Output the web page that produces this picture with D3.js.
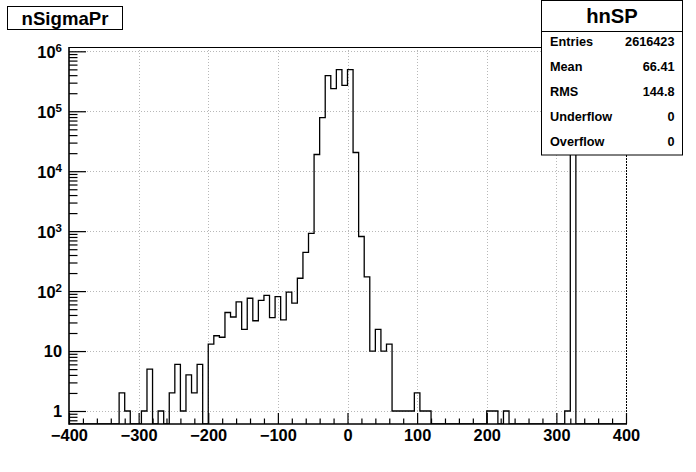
<!DOCTYPE html>
<html>
<head>
<meta charset="utf-8">
<script src="https://cdn.jsdelivr.net/npm/d3@7"></script>
<style>
  body { margin: 0; background: #fff; }
  svg { display: block; font-family: "Liberation Sans", Arial, Helvetica, sans-serif; font-weight: bold; }
</style>
</head>
<body>
<div id="chart"></div>
<script>
// histogram hnSP : 100 bins from -400 to 400
var xLow = -400,
    xHigh = 400,
    nBins = 100;

var counts = [
    0, 0, 0, 0, 0, 0, 0, 0, 0, 2,
    1, 0, 0, 1, 5, 0, 1, 0, 2, 6,
    1, 4, 2, 6, 0, 13, 18, 17, 44, 37,
    66, 23, 76, 32, 70, 85, 36, 81, 33, 96,
    63, 164, 442, 920, 19000, 78500, 394000, 239000, 495000, 271000,
    495000, 20500, 815, 173, 10, 23, 10, 13, 1, 1,
    1, 1, 2, 1, 1, 0, 0, 0, 0, 0,
    0, 0, 0, 0, 0, 1, 1, 0, 1, 0,
    0, 0, 0, 0, 0, 0, 0, 0, 0, 1,
    600000, 0, 0, 0, 0, 0, 0, 0, 0, 0
];

var xMajorTicks = [-400, -300, -200, -100, 0, 100, 200, 300, 400];
var yMajorTicks = [1, 10, 100, 1000, 10000, 100000, 1000000];

var histTitle = "nSigmaPr",
    statTitle = "hnSP";
var statNames = ["Entries", "Mean", "RMS", "Underflow", "Overflow"];
var statValues = ["2616423", "66.41", "144.8", "0", "0"];

var width = 696,
    height = 472,
    frame = {left: 69, right: 626, top: 47, bottom: 424};

var svg = d3.select("#chart").append("svg")
    .attr("width", width)
    .attr("height", height);

var x = d3.scaleLinear().domain([xLow, xHigh]).range([frame.left, frame.right]);
var y = d3.scaleLog().domain([0.607, 1.18e6]).range([frame.bottom, frame.top]);
var yFloor = y.domain()[0];

svg.append("defs").append("clipPath")
    .attr("id", "frameClip")
    .append("rect")
    .attr("x", frame.left).attr("y", frame.top)
    .attr("width", frame.right - frame.left)
    .attr("height", frame.bottom - frame.top);

// grid
var grid = svg.append("g").attr("class", "grid")
    .attr("stroke", "#b8b8b8")
    .attr("stroke-width", 1)
    .attr("stroke-dasharray", "1,2");

grid.selectAll(".gx")
    .data(xMajorTicks.filter(function(d) { return d > xLow && d < xHigh; }))
    .enter().append("line")
    .attr("x1", function(d) { return Math.round(x(d)) + 0.5; })
    .attr("x2", function(d) { return Math.round(x(d)) + 0.5; })
    .attr("y1", frame.top)
    .attr("y2", frame.bottom);

grid.selectAll(".gy")
    .data(yMajorTicks)
    .enter().append("line")
    .attr("y1", function(d) { return Math.round(y(d)) + 0.5; })
    .attr("y2", function(d) { return Math.round(y(d)) + 0.5; })
    .attr("x1", frame.left)
    .attr("x2", frame.right);

// histogram outline
var binWidth = (xHigh - xLow) / nBins;
var pts = [[xLow, yFloor]];
counts.forEach(function(c, i) {
    var v = c > 0 ? c : yFloor;
    pts.push([xLow + i * binWidth, v]);
    pts.push([xLow + (i + 1) * binWidth, v]);
});
pts.push([xHigh, yFloor]);

svg.append("path")
    .datum(pts)
    .attr("clip-path", "url(#frameClip)")
    .attr("fill", "none")
    .attr("stroke", "#000")
    .attr("stroke-width", 1.3)
    .attr("d", d3.line()
        .x(function(d) { return x(d[0]); })
        .y(function(d) { return y(d[1]); }));

// x axis
var xMinor = d3.range(xLow, xHigh + 1, 20).filter(function(d) { return xMajorTicks.indexOf(d) < 0; });

var xAxisMinor = svg.append("g")
    .attr("transform", "translate(0," + frame.bottom + ")")
    .call(d3.axisBottom(x).tickValues(xMinor).tickSize(-5.5).tickFormat(""));

var xAxis = svg.append("g")
    .attr("transform", "translate(0," + frame.bottom + ")")
    .call(d3.axisBottom(x).tickValues(xMajorTicks).tickSize(-11).tickPadding(5.6)
        .tickFormat(function(d) { return d < 0 ? "\u2212" + Math.abs(d) : d; }));

// y axis
var yMinor = y.ticks().filter(function(d) { return yMajorTicks.indexOf(d) < 0; });

var yAxisMinor = svg.append("g")
    .attr("transform", "translate(" + frame.left + ",0)")
    .call(d3.axisLeft(y).tickValues(yMinor).tickSize(-8.5).tickFormat(""));

var yAxis = svg.append("g")
    .attr("transform", "translate(" + frame.left + ",0)")
    .call(d3.axisLeft(y).tickValues(yMajorTicks).tickSize(-17).tickPadding(7).tickFormat(""));

[xAxisMinor, xAxis, yAxisMinor, yAxis].forEach(function(g) {
    g.select(".domain").remove();
    g.attr("font-family", null).attr("font-size", null);
    g.selectAll(".tick line").attr("stroke", "#000").attr("stroke-width", 1.2);
});

xAxis.selectAll("text")
    .attr("fill", "#000")
    .style("font-size", "16.4px");

// y labels with superscripted exponents
yAxis.selectAll(".tick text").each(function(d) {
    var t = d3.select(this).attr("fill", "#000").attr("dy", "0.36em").style("font-size", "16.4px");
    var p = Math.round(Math.log10(d));
    if (p < 2) {
        t.text(d);
    } else {
        t.append("tspan").text("10");
        t.append("tspan").attr("dy", "-0.5em").style("font-size", "11.5px").text(p);
    }
});

// frame
svg.append("line")
    .attr("x1", frame.left).attr("x2", frame.right)
    .attr("y1", frame.top + 0.5).attr("y2", frame.top + 0.5)
    .attr("stroke", "#000").attr("stroke-width", 1.2);
svg.append("line")
    .attr("x1", frame.right + 0.5).attr("x2", frame.right + 0.5)
    .attr("y1", frame.top).attr("y2", frame.bottom)
    .attr("stroke", "#000").attr("stroke-width", 1)
    .attr("stroke-dasharray", "2,1");
svg.append("line")
    .attr("x1", frame.left).attr("x2", frame.right + 1)
    .attr("y1", frame.bottom).attr("y2", frame.bottom)
    .attr("stroke", "#000").attr("stroke-width", 1.6);
svg.append("line")
    .attr("x1", frame.left).attr("x2", frame.left)
    .attr("y1", frame.top).attr("y2", frame.bottom + 0.8)
    .attr("stroke", "#000").attr("stroke-width", 1.6);

// stats box
var stats = svg.append("g").attr("class", "stats");
stats.append("rect")
    .attr("x", 541.5).attr("y", 0.5)
    .attr("width", 141).attr("height", 154.5)
    .attr("fill", "#fff").attr("stroke", "#000");
stats.append("line")
    .attr("x1", 541.5).attr("x2", 682.5)
    .attr("y1", 31.5).attr("y2", 31.5)
    .attr("stroke", "#000");
stats.append("text")
    .attr("x", 612).attr("y", 16)
    .attr("text-anchor", "middle")
    .attr("dominant-baseline", "central")
    .style("font-size", "20.2px")
    .text(statTitle);

var rows = stats.selectAll(".statRow")
    .data(statNames)
    .enter().append("g")
    .attr("class", "statRow")
    .attr("transform", function(d, i) { return "translate(0," + (41.5 + 25 * i) + ")"; });
rows.append("text")
    .attr("x", 550)
    .attr("dominant-baseline", "central")
    .style("font-size", "12.7px")
    .text(function(d) { return d; });
rows.append("text")
    .attr("x", 674.5)
    .attr("text-anchor", "end")
    .attr("dominant-baseline", "central")
    .style("font-size", "12.7px")
    .text(function(d, i) { return statValues[i]; });

// title box
svg.append("rect")
    .attr("x", 7.5).attr("y", 6.5)
    .attr("width", 115).attr("height", 23)
    .attr("fill", "#fff").attr("stroke", "#000");
svg.append("text")
    .attr("x", 65).attr("y", 18.5)
    .attr("text-anchor", "middle")
    .attr("dominant-baseline", "central")
    .style("font-size", "18.6px")
    .text(histTitle);
</script>
</body>
</html>
